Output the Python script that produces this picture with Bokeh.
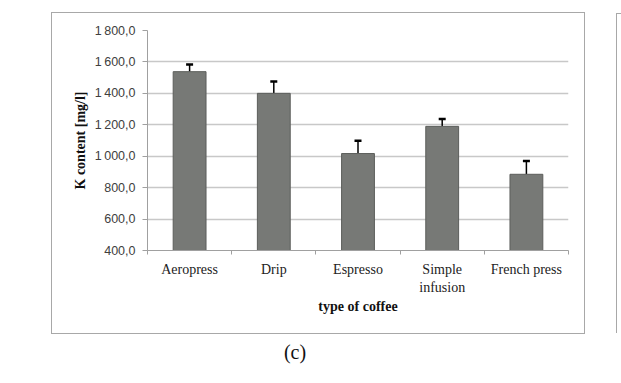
from bokeh.plotting import figure
from bokeh.models import (ColumnDataSource, Range1d, LinearAxis, Div,
                          FixedTicker, Whisker, TeeHead)
from bokeh.layouts import row, column
from bokeh.embed import file_html
from bokeh.resources import INLINE

categories = ["Aeropress", "Drip", "Espresso", "Simple\ninfusion", "French press"]
k_content = [1538, 1400, 1017, 1190, 885]
k_error = [45, 75, 82, 47, 85]
y_ticks = [400, 600, 800, 1000, 1200, 1400, 1600, 1800]
y_tick_labels = ["400,0", "600,0", "800,0", "1\u2009000,0", "1\u2009200,0", "1\u2009400,0", "1\u2009600,0", "1\u2009800,0"]

xpos = [i + 0.5 for i in range(len(categories))]
bounds = list(range(len(categories) + 1))
upper = [v + e for v, e in zip(k_content, k_error)]
src = ColumnDataSource(dict(x=xpos, val=k_content, upper=upper))

p = figure(width=532, height=320, output_backend="svg", toolbar_location=None,
           x_range=Range1d(0, len(categories)),
           y_range=Range1d(400, 1800),
           x_axis_location=None, y_axis_location=None,
           min_border_left=95, min_border_right=16, min_border_top=17, min_border_bottom=83)
p.outline_line_color = None
p.background_fill_color = "white"
p.border_fill_color = "white"
p.margin = (13, 0, 0, 52)
p.styles = {"outline": "1.5px solid #a8a8a8"}

# y axis
yax = LinearAxis(ticker=FixedTicker(ticks=y_ticks),
                 major_label_overrides={t: l for t, l in zip(y_ticks, y_tick_labels)},
                 axis_label="K content [mg/l]")
yax.axis_line_color = "#a0a0a0"
yax.major_tick_line_color = "#a0a0a0"
yax.major_tick_out = 5
yax.major_tick_in = 0
yax.minor_tick_line_color = None
yax.major_label_text_font = "Liberation Sans"
yax.major_label_text_font_size = "12.5px"
yax.major_label_text_color = "#404040"
yax.major_label_standoff = 7
yax.axis_label_text_font = "Liberation Serif"
yax.axis_label_text_font_style = "bold"
yax.axis_label_text_font_size = "14px"
yax.axis_label_text_color = "#111111"
yax.axis_label_standoff = 4
p.add_layout(yax, "left")

# x tick-only axis at category boundaries
tax = LinearAxis(ticker=FixedTicker(ticks=bounds),
                 major_label_overrides={b: "" for b in bounds})
tax.axis_line_color = "#a0a0a0"
tax.major_tick_line_color = "#a0a0a0"
tax.major_tick_out = 4
tax.major_tick_in = 0
tax.minor_tick_line_color = None
tax.major_label_standoff = 0
p.add_layout(tax, "below")

# category label axis
cax = LinearAxis(ticker=FixedTicker(ticks=xpos),
                 major_label_overrides={x: c for x, c in zip(xpos, categories)},
                 axis_label="type of coffee")
cax.axis_line_color = None
cax.major_tick_line_color = None
cax.minor_tick_line_color = None
cax.major_label_text_font = "Liberation Serif"
cax.major_label_text_font_size = "14px"
cax.major_label_text_color = "#222222"
cax.major_label_standoff = 1
cax.axis_label_text_font = "Liberation Serif"
cax.axis_label_text_font_style = "bold"
cax.axis_label_text_font_size = "14px"
cax.axis_label_text_color = "#111111"
cax.axis_label_standoff = 1
p.add_layout(cax, "below")

p.ygrid.ticker = FixedTicker(ticks=y_ticks)
p.ygrid.grid_line_color = "#c8c8c8"
p.ygrid.grid_line_width = 1.5
p.xgrid.grid_line_color = None

p.vbar(x="x", top="val", bottom=400, width=0.39, source=src,
       fill_color="#777976", line_color="#5c5e5b", line_width=1)

w = Whisker(source=src, base="x", lower="val", upper="upper",
            line_color="black", line_width=1.5,
            upper_head=TeeHead(size=7, line_color="black", line_width=2.5),
            lower_head=None)
p.add_layout(w)

cap = Div(text="(c)", width=100, height=30, margin=(7, 0, 0, 245),
          styles={"font-family": "Liberation Serif", "font-size": "20px",
                  "text-align": "center", "line-height": "24px", "color": "#111111"})

side = Div(text="", width=6, height=320, margin=(13, 0, 0, 32),
           styles={"border-left": "1.5px solid #a8a8a8", "border-top": "1.5px solid #a8a8a8"})

layout = row(column(p, cap), side)

open("out.html", "w").write(file_html(layout, INLINE))
